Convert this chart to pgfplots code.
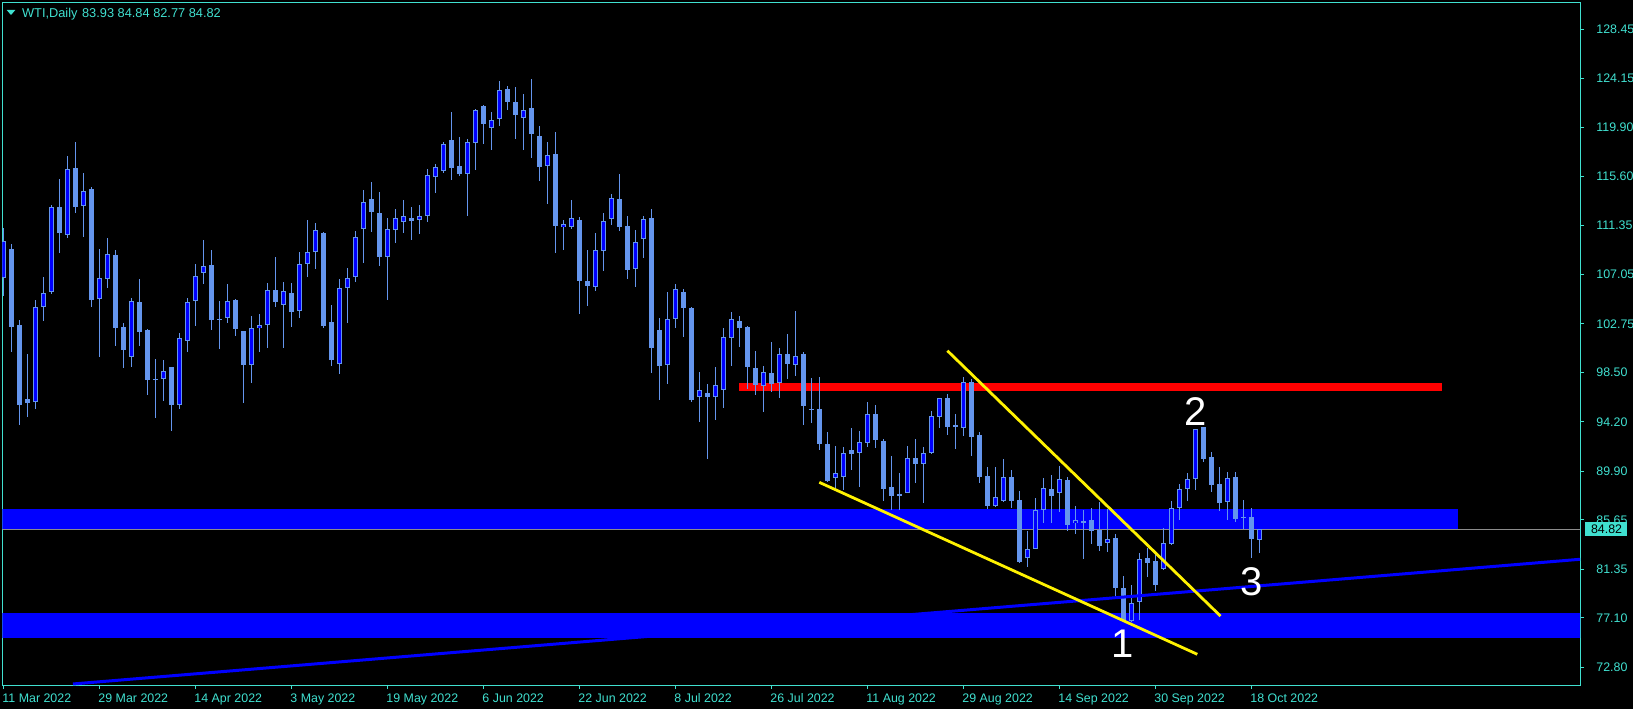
\documentclass[border=0pt]{standalone}
\usepackage{pgfplots}
\pgfplotsset{compat=1.18}
\usepackage{pgfplotstable}
\usepackage{fontspec}
\setmainfont{Liberation Sans}
\definecolor{turq}{RGB}{64,224,208}
\definecolor{cfblue}{RGB}{100,149,237}
\definecolor{pricegray}{RGB}{140,140,140}

% WTI daily candles, index 0 = 11 Mar 2022
\pgfplotstableread{
i O H L C
0 106.72 111.08 105.21 109.98
1 109.28 109.72 100.32 102.50
2 102.65 103.08 93.92 95.67
3 96.16 100.12 94.65 95.87
4 95.96 104.83 95.32 104.19
5 104.25 106.84 103.03 105.41
6 105.56 113.12 105.35 112.92
7 112.92 115.39 108.96 110.65
8 110.50 117.40 110.27 116.26
9 116.33 118.62 112.45 112.97
10 113.06 115.94 110.36 114.31
11 114.52 114.70 104.25 104.83
12 104.89 109.28 99.88 106.72
13 106.63 110.21 105.91 108.81
14 108.73 109.19 100.81 102.41
15 102.44 102.79 98.92 100.47
16 99.88 104.97 99.01 104.74
17 104.62 106.63 100.81 102.07
18 102.21 102.30 96.54 97.85
19 97.96 99.68 94.56 97.91
20 97.91 99.59 96.04 98.60
21 98.98 98.98 93.43 95.67
22 95.67 101.98 95.32 101.48
23 101.28 105.00 100.29 104.62
24 104.77 107.97 102.59 106.89
25 107.21 110.07 106.23 107.77
26 107.88 109.19 102.21 103.08
27 103.14 104.74 100.55 103.14
28 103.23 106.23 102.79 104.71
29 104.83 104.92 101.72 102.30
30 102.12 102.12 95.87 99.16
31 99.16 103.43 97.61 102.36
32 102.36 103.61 100.32 102.62
33 102.68 106.28 100.67 105.67
34 105.70 108.58 104.25 104.68
35 104.39 106.40 100.67 105.59
36 105.41 106.28 102.50 103.81
37 103.90 109.02 103.29 107.94
38 107.94 111.81 106.87 108.99
39 109.05 111.52 107.53 110.91
40 110.68 110.76 102.41 102.56
41 102.91 104.39 99.07 99.59
42 99.21 106.66 98.37 105.85
43 105.85 107.65 102.85 106.78
44 106.81 110.85 106.43 110.30
45 110.99 114.43 108.09 113.41
46 113.61 115.13 110.79 112.54
47 112.39 114.23 107.83 108.55
48 108.61 111.96 104.83 110.99
49 110.97 112.77 109.83 111.96
50 111.61 113.56 110.71 112.17
51 111.96 112.95 110.07 111.76
52 111.79 113.13 110.62 112.14
53 112.14 116.27 111.64 115.71
54 115.60 116.70 114.20 116.41
55 116.12 118.59 115.90 118.42
56 118.80 121.24 115.34 116.38
57 116.53 119.03 115.69 115.86
58 115.86 118.89 112.19 118.59
59 118.57 121.50 116.18 121.42
60 121.74 121.85 118.45 120.22
61 119.87 121.24 117.93 120.54
62 120.60 123.95 120.05 123.16
63 123.25 123.51 121.42 122.14
64 122.11 123.42 118.89 121.01
65 120.69 122.81 117.93 121.39
66 121.59 124.12 117.26 119.32
67 119.15 120.02 115.25 116.47
68 116.56 118.59 113.21 117.46
69 117.58 119.49 108.97 111.32
70 111.18 111.82 109.20 111.44
71 111.18 113.56 111.06 111.96
72 111.82 112.08 103.61 106.52
73 106.46 109.20 104.31 106.09
74 106.00 110.68 105.65 109.17
75 109.14 112.43 107.40 111.70
76 111.87 114.09 111.38 113.71
77 113.62 115.83 110.86 111.23
78 111.29 112.17 106.67 107.48
79 107.51 110.94 105.97 109.87
80 110.13 112.19 108.53 111.93
81 111.99 112.78 98.49 100.67
82 102.21 103.23 96.10 99.07
83 99.16 105.53 97.50 103.14
84 103.14 106.23 102.39 105.76
85 105.53 105.79 101.63 104.16
86 104.13 104.20 95.96 96.10
87 96.39 98.52 94.21 96.97
88 96.68 97.47 90.95 96.39
89 96.39 98.98 94.36 97.38
90 96.95 102.36 95.43 101.57
91 101.54 103.81 99.07 103.14
92 102.97 103.43 100.76 102.41
93 102.47 102.59 97.03 99.01
94 98.87 100.38 96.57 97.44
95 97.32 99.10 95.08 98.57
96 98.43 101.16 96.83 97.53
97 97.56 100.61 96.31 100.15
98 100.09 101.86 97.96 99.21
99 99.13 103.87 98.23 99.97
100 100.12 100.26 93.95 95.61
101 95.29 98.02 94.12 95.29
102 95.32 98.11 91.74 92.29
103 92.26 93.28 88.92 89.03
104 89.27 92.09 88.31 89.70
105 89.41 92.00 88.25 91.45
106 91.74 93.66 89.99 91.39
107 91.45 93.40 88.54 92.41
108 92.38 95.93 92.03 94.85
109 94.85 95.67 91.94 92.61
110 92.52 92.70 87.32 88.34
111 88.51 91.21 86.50 87.75
112 87.84 89.70 86.50 87.84
113 88.02 92.09 87.96 91.01
114 91.01 92.70 88.89 90.55
115 90.49 92.00 87.14 91.45
116 91.45 95.14 91.36 94.71
117 94.65 96.25 93.69 96.25
118 96.25 96.60 93.08 93.77
119 93.86 94.88 91.83 93.86
120 93.69 98.08 92.99 97.64
121 97.64 97.93 91.21 92.90
122 93.05 93.34 88.89 89.41
123 89.47 90.23 86.56 86.88
124 86.88 90.23 86.79 87.67
125 87.32 90.96 87.23 89.41
126 89.36 90.00 86.65 87.32
127 87.38 88.16 81.91 82.00
128 82.29 84.67 81.56 83.07
129 83.10 87.52 83.07 86.50
130 86.50 89.33 85.40 88.40
131 88.34 89.56 85.34 87.76
132 87.96 90.35 86.36 89.18
133 89.12 89.36 84.70 85.20
134 85.34 86.85 84.41 85.63
135 85.49 86.50 82.23 85.49
136 85.63 86.68 83.54 84.70
137 84.76 87.17 82.96 83.39
138 83.60 86.56 82.87 83.94
139 84.03 84.38 78.94 79.73
140 79.67 80.74 76.76 76.90
141 76.85 79.96 76.76 78.36
142 78.45 82.72 76.90 82.20
143 82.29 83.16 80.69 81.91
144 82.05 82.66 79.44 79.96
145 81.33 84.90 81.27 83.60
146 83.54 87.29 83.45 86.65
147 86.65 88.77 85.63 88.34
148 88.37 89.70 87.29 89.18
149 89.18 93.54 88.25 93.54
150 93.72 93.72 90.72 90.96
151 91.16 91.60 88.05 88.69
152 88.74 90.23 86.42 87.14
153 87.23 89.79 85.63 89.33
154 89.36 89.79 85.49 85.72
155 85.87 87.38 84.82 85.87
156 85.87 86.71 82.34 83.97
157 83.93 84.84 82.77 84.82
}\wti

\begin{document}
\begin{tikzpicture}
\fill[black, use as bounding box] (0,0) rectangle (816.5pt,354.5pt);
\begin{axis}[
    at={(1.15pt,12pt)}, anchor=south west,
    width=788.85pt, height=341.35pt, scale only axis,
    xmin=-0.175, xmax=197.04,
    ymin=71.23, ymax=130.82,
    axis line style={draw=turq, line width=0.5pt},
    tick style={draw=turq, line width=0.5pt},
    major tick length=2pt,
    tick align=outside,
    xtick pos=left, ytick pos=right,
    yticklabel pos=right,
    xtick={0,12,...,156},
    xticklabels={11 Mar 2022, 29 Mar 2022, 14 Apr 2022, 3 May 2022, 19 May 2022, 6 Jun 2022, 22 Jun 2022, 8 Jul 2022, 26 Jul 2022, 11 Aug 2022, 29 Aug 2022, 14 Sep 2022, 30 Sep 2022, 18 Oct 2022},
    ytick={72.80,77.10,81.35,85.65,89.90,94.20,98.50,102.75,107.05,111.35,115.60,119.90,124.15,128.45},
    yticklabels={72.80,77.10,81.35,85.65,89.90,94.20,98.50,102.75,107.05,111.35,115.60,119.90,124.15,128.45},
    tick label style={font=\fontsize{6.2pt}{7pt}\selectfont, text=turq, inner sep=0pt},
    xticklabel style={anchor=north west, xshift=-0.8pt, yshift=-2.2pt},
    yticklabel style={anchor=west, xshift=6pt},
]
% background objects
\addplot[fill=blue, draw=none, forget plot] coordinates {(-1,84.85) (181.8,84.85) (181.8,86.58) (-1,86.58)} -- cycle;
\addplot[fill=blue, draw=none, forget plot] coordinates {(-1,75.33) (198,75.33) (198,77.50) (-1,77.50)} -- cycle;
\addplot[fill=red, draw=none, forget plot] coordinates {(91.9,96.93) (179.8,96.93) (179.8,97.57) (91.9,97.57)} -- cycle;
\addplot[draw=pricegray, line width=0.5pt, forget plot] coordinates {(-1,84.82) (198,84.82)};

% wicks
\addplot[draw=none, mark=none, forget plot,
    error bars/.cd, y dir=both, y explicit, error mark=none,
    error bar style={draw=cfblue, line width=0.5pt}]
    table[x=i, y expr={(\thisrow{H}+\thisrow{L})/2}, y error expr={(\thisrow{H}-\thisrow{L})/2}] {\wti};
% bodies
\addplot[draw=none, mark=none, forget plot,
    error bars/.cd, y dir=both, y explicit, error mark=none,
    error bar style={draw=cfblue, line width=2.6pt}]
    table[x=i, y expr={(\thisrow{O}+\thisrow{C})/2}, y error expr={max(abs(\thisrow{C}-\thisrow{O})/2,0.045)}] {\wti};
% bull fill
\addplot[draw=none, mark=none, forget plot,
    error bars/.cd, y dir=both, y explicit, error mark=none,
    error bar style={draw=blue, line width=1.5pt}]
    table[x=i, y expr={(\thisrow{O}+\thisrow{C})/2}, y error expr={max((\thisrow{C}-\thisrow{O})/2-0.087,0)}] {\wti};

% trend lines
\addplot[draw=blue, line width=1.5pt, forget plot] coordinates {(8.66,71.32) (197.5,82.23)};
\addplot[draw=yellow, line width=1.4pt, forget plot] coordinates {(117.96,100.41) (152.1,77.25)};
\addplot[draw=yellow, line width=1.4pt, forget plot] coordinates {(101.95,88.92) (149.2,73.91)};

\node[text=white, font=\fontsize{20pt}{24pt}\selectfont, inner sep=0pt] at (axis cs:139.9,74.87) {1};
\node[text=white, font=\fontsize{20pt}{24pt}\selectfont, inner sep=0pt] at (axis cs:148.98,95.08) {2};
\node[text=white, font=\fontsize{20pt}{24pt}\selectfont, inner sep=0pt] at (axis cs:156.0,80.25) {3};
\end{axis}
% current price box
\fill[turq] (792.5pt,86.5pt) rectangle (813.3pt,93.65pt);
\node[anchor=west, inner sep=0pt, text=black, font=\fontsize{6.2pt}{7pt}\selectfont] at (795.3pt,90.1pt) {84.82};
% title
\fill[turq] (3.35pt,349.5pt) -- (7.65pt,349.5pt) -- (5.5pt,347pt) -- cycle;
\node[anchor=base west, inner sep=0pt, text=turq, font=\fontsize{6.4pt}{7pt}\selectfont] at (10.85pt,345.85pt) {WTI,Daily};
\node[anchor=base west, inner sep=0pt, text=turq, font=\fontsize{6.4pt}{7pt}\selectfont] at (40.85pt,345.85pt) {83.93 84.84 82.77 84.82};
\end{tikzpicture}
\end{document}
